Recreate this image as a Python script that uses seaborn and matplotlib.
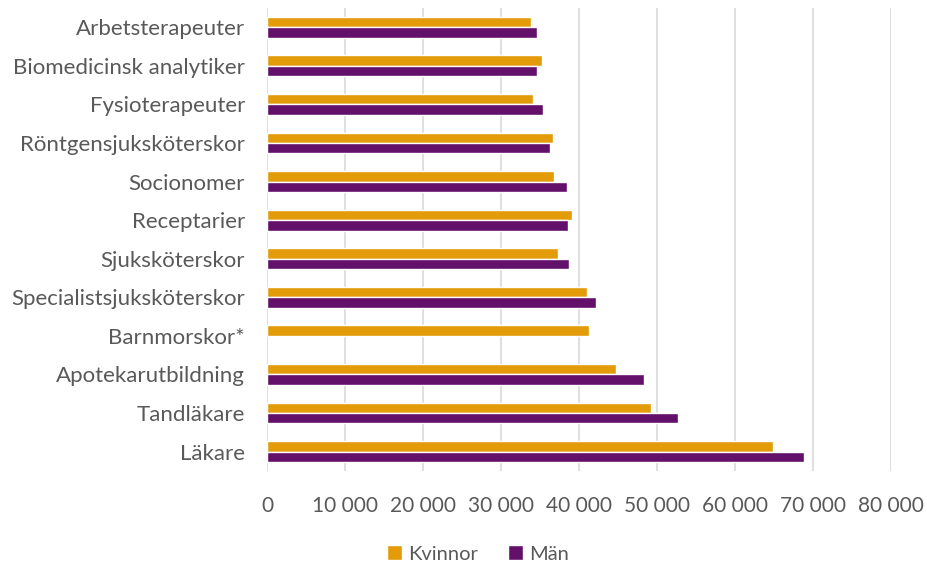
import seaborn as sns
import matplotlib.pyplot as plt
import pandas as pd
import numpy as np
from matplotlib.ticker import FuncFormatter

yrken = ['Arbetsterapeuter', 'Biomedicinsk analytiker', 'Fysioterapeuter',
         'Röntgensjuksköterskor', 'Socionomer', 'Receptarier', 'Sjuksköterskor',
         'Specialistsjuksköterskor', 'Barnmorskor*', 'Apotekarutbildning',
         'Tandläkare', 'Läkare']
kvinnor = [33800, 35250, 34100, 36600, 36800, 39100, 37300, 41000, 41300, 44700, 49200, 64900]
man = [34600, 34600, 35400, 36300, 38500, 38600, 38700, 42200, np.nan, 48300, 52700, 68800]

df = pd.DataFrame({'Yrke': yrken * 2,
                   'Lön': kvinnor + man,
                   'Kön': ['Kvinnor'] * len(yrken) + ['Män'] * len(yrken)})

sns.set_style('white')
plt.rcParams['font.family'] = ['Lato', 'DejaVu Sans']
grey = '#595959'

fig = plt.figure(figsize=(9.28, 5.64), dpi=100)
ax = fig.add_axes([0.288, 0.165, 0.672, 0.821])
sns.barplot(data=df, y='Yrke', x='Lön', hue='Kön', orient='h',
            palette=['#E39B0A', '#63106A'], width=0.54, ax=ax, saturation=1)

ax.set_xlim(0, 80000)
ax.set_xticks(range(0, 80001, 10000))
ax.xaxis.set_major_formatter(FuncFormatter(lambda v, p: f'{int(v):,}'.replace(',', ' ')))
ax.grid(axis='x', color='#d9d9d9', linewidth=1.2)
ax.set_axisbelow(True)
for s in ax.spines.values():
    s.set_visible(False)
ax.set_xlabel('')
ax.set_ylabel('')
ax.tick_params(axis='both', length=0, colors=grey)
ax.tick_params(axis='x', pad=18, labelsize=15)
ax.tick_params(axis='y', pad=16, labelsize=16)

ax.legend(loc='center', bbox_to_anchor=(0.515, 0.018), bbox_transform=fig.transFigure,
          ncol=2, frameon=False, fontsize=14.5, labelcolor=grey,
          handlelength=0.75, handleheight=0.75, handletextpad=0.3,
          columnspacing=1.5, borderpad=0.1)

fig.savefig('out.png', dpi=100)
